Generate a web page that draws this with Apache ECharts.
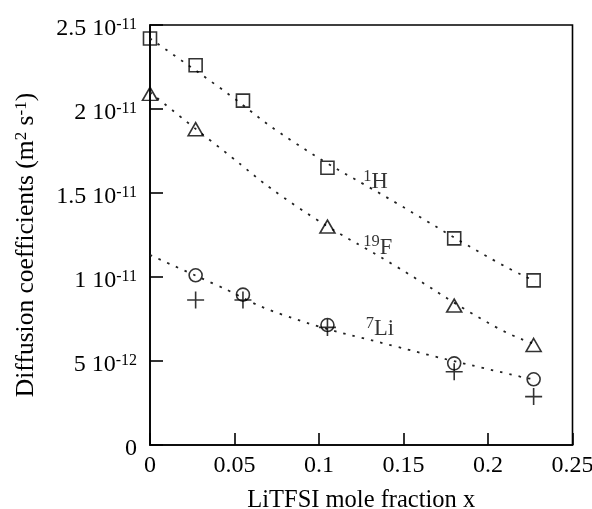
<!DOCTYPE html>
<html>
<head>
<meta charset="utf-8">
<script src="https://cdn.jsdelivr.net/npm/echarts@6/dist/echarts.min.js"></script>
<style>
  html, body { margin: 0; padding: 0; background: #fff; }
  #chart { width: 592px; height: 509px; }
</style>
</head>
<body>
<div id="chart"></div>
<script>
// Diffusion coefficients, in units of 1e-11 m^2 s^-1, versus LiTFSI mole fraction x
const xH = [0, 0.027, 0.055, 0.105, 0.18, 0.227];
const dH = [2.42, 2.26, 2.05, 1.65, 1.23, 0.98];

const xF = [0, 0.027, 0.105, 0.18, 0.227];
const dF = [2.09, 1.88, 1.30, 0.83, 0.595];

const xLi = [0.027, 0.055, 0.105, 0.18, 0.227];
const dLiCircle = [1.01, 0.895, 0.714, 0.486, 0.391];
const dLiCross = [0.863, 0.863, 0.70, 0.436, 0.288];

// Dotted fitted curves
const fitHx = [0, 0.0404, 0.0848, 0.146, 0.205, 0.228];
const fitHy = [2.42, 2.133, 1.805, 1.439, 1.091, 0.975];
const fitFx = [0, 0.0404, 0.0868, 0.146, 0.205, 0.228];
const fitFy = [2.10, 1.776, 1.42, 1.061, 0.70, 0.60];
const fitLix = [0, 0.0394, 0.0789, 0.146, 0.219, 0.228];
const fitLiy = [1.131, 0.952, 0.774, 0.585, 0.407, 0.39];

// Nucleus labels
const nucleusMass = ['1', '19', '7'];
const nucleusSymbol = ['H', 'F', 'Li'];
const nucleusX = [0.1259, 0.1259, 0.1273];
const nucleusY = [1.567, 1.175, 0.69];

// Tick labels
const xTickLabels = ['0', '0.05', '0.1', '0.15', '0.2', '0.25'];
const yTickMantissa = ['0', '5', '1', '1.5', '2', '2.5'];
const yTickExponent = ['', '-12', '-11', '-11', '-11', '-11'];

const FONT = '"Liberation Serif", "Times New Roman", serif';
const zip = (xs, ys) => xs.map((x, i) => [x, ys[i]]);

const chart = echarts.init(document.getElementById('chart'), null, { renderer: 'canvas' });

const supRich = {
  main: { fontFamily: FONT, fontSize: 24, color: '#000', lineHeight: 30 },
  sup: { fontFamily: FONT, fontSize: 16, color: '#000', lineHeight: 16, verticalAlign: 'top', padding: [3, 0, 0, 0] }
};

const markerStyle = { color: 'transparent', borderColor: '#000', borderWidth: 1.6 };
const fitLine = { color: '#222', width: 1.8, type: [2.5, 7] };

chart.setOption({
  backgroundColor: '#fff',
  animation: false,
  grid: {
    left: 150, right: 19.5, top: 25, bottom: 64,
    outerBoundsMode: 'none', containLabel: false,
    show: true, borderColor: '#000', borderWidth: 1.6, backgroundColor: 'transparent'
  },
  xAxis: {
    type: 'value', min: 0, max: 0.25, interval: 0.05,
    name: 'LiTFSI mole fraction x',
    nameLocation: 'middle', nameGap: 43,
    nameTextStyle: { fontFamily: FONT, fontSize: 24.5, color: '#000' },
    axisLine: { show: true, lineStyle: { color: '#000', width: 1.6 } },
    axisTick: { show: true, inside: true, length: 12, lineStyle: { color: '#000', width: 1.6 } },
    axisLabel: {
      margin: 9, fontFamily: FONT, fontSize: 24, color: '#000',
      formatter: (v, i) => xTickLabels[i]
    },
    splitLine: { show: false }
  },
  yAxis: {
    type: 'value', min: 0, max: 2.5, interval: 0.5,
    name: 'Diffusion coefficients (m{sup|2} s{sup|-1})',
    nameLocation: 'middle', nameGap: 111, nameRotate: 90,
    nameTextStyle: {
      fontFamily: FONT, fontSize: 25.5, color: '#000', padding: [0, 20, 0, 0],
      rich: {
        sup: { fontFamily: FONT, fontSize: 17, color: '#000', verticalAlign: 'top', lineHeight: 17 }
      }
    },
    axisLine: { show: true, lineStyle: { color: '#000', width: 1.6 } },
    axisTick: { show: true, inside: true, length: 13, lineStyle: { color: '#000', width: 1.6 } },
    axisLabel: {
      margin: 13, fontFamily: FONT, fontSize: 24, color: '#000', padding: [8, 0, 0, 0],
      formatter: (v, i) => yTickExponent[i]
        ? '{main|' + yTickMantissa[i] + ' 10}{sup|' + yTickExponent[i] + '}'
        : '{main|' + yTickMantissa[i] + '}',
      rich: supRich
    },
    splitLine: { show: false }
  },
  series: [
    { type: 'line', data: zip(fitHx, fitHy), smooth: true, symbol: 'none', lineStyle: fitLine, z: 2 },
    { type: 'line', data: zip(fitFx, fitFy), smooth: true, symbol: 'none', lineStyle: fitLine, z: 2 },
    { type: 'line', data: zip(fitLix, fitLiy), smooth: true, symbol: 'none', lineStyle: fitLine, z: 2 },
    { type: 'scatter', data: zip(xH, dH), symbol: 'rect', symbolSize: 13, itemStyle: markerStyle, clip: false, z: 3 },
    { type: 'scatter', data: zip(xF, dF), symbol: 'triangle', symbolSize: [15, 13], itemStyle: markerStyle, clip: false, z: 3 },
    { type: 'scatter', data: zip(xLi, dLiCircle), symbol: 'circle', symbolSize: 13, itemStyle: markerStyle, clip: false, z: 3 },
    { type: 'scatter', data: zip(xLi, dLiCross), symbol: 'path://M0,8H16M8,0V16', symbolSize: 17,
      itemStyle: { color: 'none', borderColor: '#000', borderWidth: 1.6 }, clip: false, z: 3 },
    {
      type: 'scatter', symbolSize: 1, itemStyle: { color: 'transparent' }, silent: true, z: 4,
      data: nucleusSymbol.map((s, i) => ({ value: [nucleusX[i], nucleusY[i]], name: '{sup|' + nucleusMass[i] + '}{main|' + s + '}' })),
      label: {
        show: true, position: 'right', distance: 0,
        formatter: p => p.name,
        rich: {
          main: { fontFamily: FONT, fontSize: 22.5, color: '#000', lineHeight: 28 },
          sup: { fontFamily: FONT, fontSize: 16.5, color: '#000', lineHeight: 16, verticalAlign: 'top' }
        }
      }
    }
  ]
});
</script>
</body>
</html>
